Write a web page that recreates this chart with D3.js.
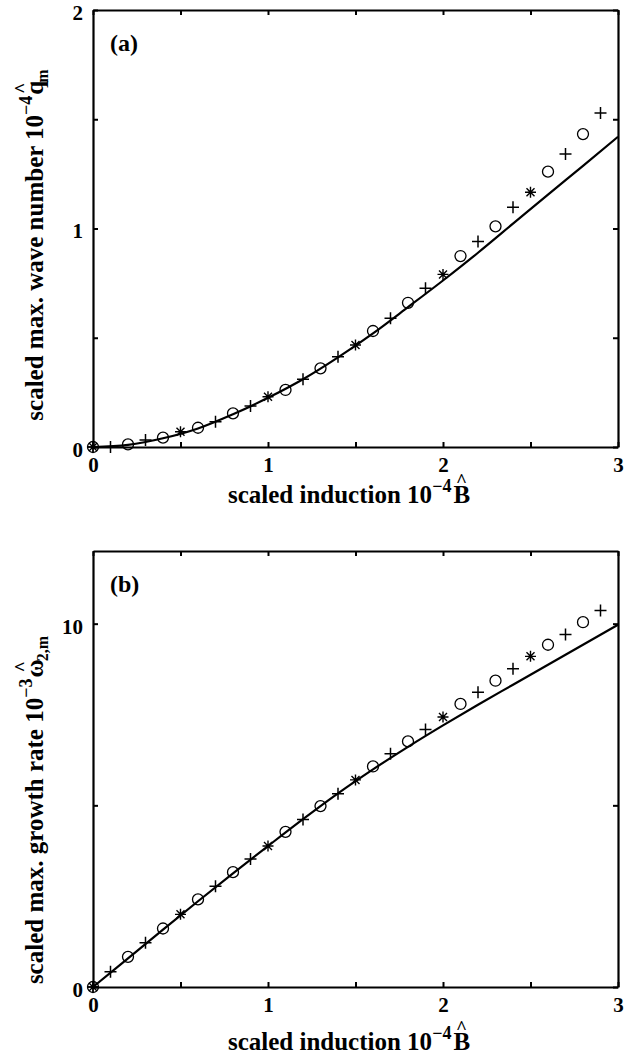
<!DOCTYPE html>
<html>
<head>
<meta charset="utf-8">
<script src="https://cdn.jsdelivr.net/npm/d3@7"></script>
<style>
  body { margin: 0; background: #fff; }
  svg text { font-family: "Liberation Serif", "Times New Roman", serif; font-weight: bold; fill: #000; }
</style>
</head>
<body>
<svg width="644" height="1059"></svg>
<script>
// induction values for each marker set (same in both panels)
var plusB = [0, 0.1, 0.3, 0.7, 0.9, 1.2, 1.4, 1.7, 1.9, 2.2, 2.4, 2.7, 2.9];
var circleB = [0, 0.2, 0.4, 0.6, 0.8, 1.1, 1.3, 1.6, 1.8, 2.1, 2.3, 2.6, 2.8];
var starB = [0, 0.5, 1.0, 1.5, 2.0, 2.5];
var lineB = [0, 0.2, 0.4, 0.6, 0.8, 1.0, 1.2, 1.4, 1.6, 1.8, 2.0, 2.2, 2.4, 2.6, 2.8, 3.0];

// (a) max wave number
var plusQ = [0, 0.0, 0.032, 0.116, 0.188, 0.31, 0.413, 0.589, 0.726, 0.94, 1.097, 1.341, 1.529];
var circleQ = [0, 0.012, 0.043, 0.088, 0.154, 0.261, 0.36, 0.531, 0.66, 0.874, 1.01, 1.26, 1.432];
var starQ = [0, 0.07, 0.23, 0.467, 0.79, 1.166];
var lineQ = [0, 0.01, 0.04, 0.085, 0.15, 0.225, 0.31, 0.41, 0.52, 0.64, 0.762, 0.889, 1.022, 1.155, 1.287, 1.42];

// (b) max growth rate
var plusW = [0, 0.42, 1.22, 2.77, 3.52, 4.61, 5.32, 6.42, 7.09, 8.11, 8.76, 9.70, 10.36];
var circleW = [0, 0.83, 1.61, 2.41, 3.16, 4.27, 4.98, 6.07, 6.76, 7.79, 8.43, 9.42, 10.04];
var starW = [0, 2.0, 3.88, 5.70, 7.43, 9.10];
var lineW = [0, 0.79, 1.58, 2.36, 3.13, 3.88, 4.62, 5.33, 5.99, 6.61, 7.20, 7.77, 8.32, 8.87, 9.42, 9.97];

var xTicks = [0, 0.5, 1, 1.5, 2, 2.5, 3];
var xLabels = [0, 1, 2, 3];

var svg = d3.select("svg");

var x = d3.scaleLinear().domain([0, 3]).range([93, 618]);

var panels = [
  { tag: "(a)", top: 10, bottom: 447, ymax: 2, yTicks: [0, 0.5, 1, 1.5, 2], yLabels: [0, 1, 2],
    plus: plusQ, circ: circleQ, star: starQ, line: lineQ,
    ylab: ["scaled max. wave number 10", "\u22124", "q", "m"], ylabY: 245, xlabY: 503 },
  { tag: "(b)", top: 551, bottom: 987, ymax: 12, yTicks: [0, 5, 10], yLabels: [0, 10],
    plus: plusW, circ: circleW, star: starW, line: lineW,
    ylab: ["scaled max. growth rate 10", "\u22123", "\u03c9", "2,m"], ylabY: 810, xlabY: 1050 }
];

var plusPath = "M-6,0H6M0,-6V6";
var starPath = "M-5.5,0H5.5M0,-5.5V5.5M-4,-4L4,4M-4,4L4,-4";

panels.forEach(function(p) {
  var y = d3.scaleLinear().domain([0, p.ymax]).range([p.bottom, p.top]);
  var g = svg.append("g");

  var fmtX = function(d) { return xLabels.indexOf(d) >= 0 ? d : ""; };
  var fmtY = function(d) { return p.yLabels.indexOf(d) >= 0 ? d : ""; };

  var axes = [
    g.append("g").attr("transform", "translate(0," + p.bottom + ")")
      .call(d3.axisBottom(x).tickValues(xTicks).tickSize(-5).tickSizeOuter(0).tickPadding(10).tickFormat(fmtX)),
    g.append("g").attr("transform", "translate(0," + p.top + ")")
      .call(d3.axisTop(x).tickValues(xTicks).tickSize(-5).tickSizeOuter(0).tickFormat("")),
    g.append("g").attr("transform", "translate(" + x(0) + ",0)")
      .call(d3.axisLeft(y).tickValues(p.yTicks).tickSize(-5).tickSizeOuter(0).tickPadding(10).tickFormat(fmtY)),
    g.append("g").attr("transform", "translate(" + x(3) + ",0)")
      .call(d3.axisRight(y).tickValues(p.yTicks).tickSize(-5).tickSizeOuter(0).tickFormat(""))
  ];
  axes.forEach(function(a) {
    a.select(".domain").attr("stroke", "#000").attr("stroke-width", 2.2);
    a.selectAll(".tick line").attr("stroke", "#000").attr("stroke-width", 2);
    a.selectAll("text").attr("font-size", 21).attr("font-family", null);
  });
  // y tick labels sit a little below their ticks
  axes[2].selectAll("text").attr("dy", "0.45em");

  // theory curve
  var lineData = lineB.map(function(b, i) { return [b, p.line[i]]; });
  g.append("path")
    .datum(lineData)
    .attr("fill", "none")
    .attr("stroke", "#000")
    .attr("stroke-width", 2.2)
    .attr("d", d3.line()
      .x(function(d) { return x(d[0]); })
      .y(function(d) { return y(d[1]); })
      .curve(d3.curveMonotoneX));

  // markers
  g.selectAll(".circ")
    .data(circleB.map(function(b, i) { return [b, p.circ[i]]; }))
    .enter().append("circle")
      .attr("cx", function(d) { return x(d[0]); })
      .attr("cy", function(d) { return y(d[1]); })
      .attr("r", 5.5)
      .attr("fill", "none")
      .attr("stroke", "#000")
      .attr("stroke-width", 1.3);

  g.selectAll(".plus")
    .data(plusB.map(function(b, i) { return [b, p.plus[i]]; }))
    .enter().append("path")
      .attr("transform", function(d) { return "translate(" + x(d[0]) + "," + y(d[1]) + ")"; })
      .attr("d", plusPath)
      .attr("stroke", "#000")
      .attr("stroke-width", 1.5);

  g.selectAll(".star")
    .data(starB.map(function(b, i) { return [b, p.star[i]]; }))
    .enter().append("path")
      .attr("transform", function(d) { return "translate(" + x(d[0]) + "," + y(d[1]) + ")"; })
      .attr("d", starPath)
      .attr("stroke", "#000")
      .attr("stroke-width", 1.4);

  // panel tag
  g.append("text")
    .attr("x", 110)
    .attr("y", p.top + 41)
    .attr("font-size", 24)
    .text(p.tag);

  // x label
  var xl = g.append("text")
    .attr("x", 349)
    .attr("y", p.xlabY)
    .attr("text-anchor", "middle")
    .attr("font-size", 25);
  xl.append("tspan").text("scaled induction 10");
  xl.append("tspan").attr("dy", -11).attr("font-size", 18).text("\u22124");
  xl.append("tspan").attr("dx", 2).attr("dy", 11).text("B");
  xl.append("tspan").attr("dx", -14).attr("dy", -16).attr("font-size", 19).text("^");
  xl.append("tspan").attr("dy", 16).text("");

  // y label
  var yl = g.append("text")
    .attr("transform", "translate(43," + p.ylabY + ") rotate(-90)")
    .attr("text-anchor", "middle")
    .attr("font-size", 25);
  yl.append("tspan").text(p.ylab[0]);
  yl.append("tspan").attr("dy", -11).attr("font-size", 18).text(p.ylab[1]);
  yl.append("tspan").attr("dx", 1).attr("dy", 11).text(p.ylab[2]);
  yl.append("tspan").attr("dx", -13).attr("dy", -15).attr("font-size", 19).text("^");
  yl.append("tspan").attr("dy", 20).attr("font-size", 16).text(p.ylab[3]);
});
</script>
</body>
</html>
